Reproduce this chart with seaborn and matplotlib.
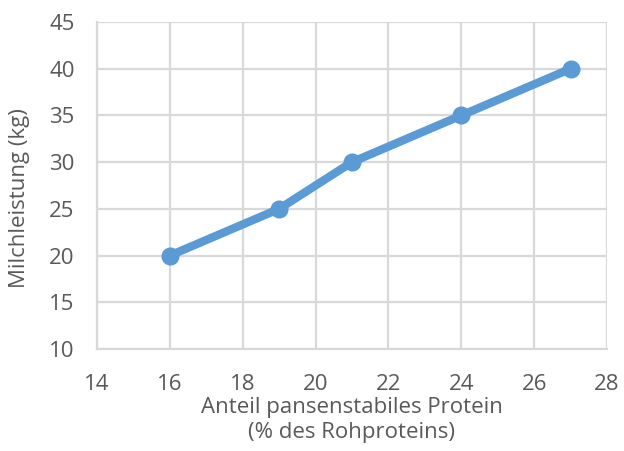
import matplotlib
matplotlib.use("Agg")
import matplotlib.pyplot as plt
import seaborn as sns
import pandas as pd

# Share of rumen-stable protein vs. milk yield
anteil = [16, 19, 21, 24, 27]
milch = [20, 25, 30, 35, 40]
x_ticks = [14, 16, 18, 20, 22, 24, 26, 28]
y_ticks = [10, 15, 20, 25, 30, 35, 40, 45]

df = pd.DataFrame({"anteil": anteil, "milch": milch})

sns.set_theme(style="white")
plt.rcParams["font.family"] = ["Open Sans", "DejaVu Sans"]

text_col = "#595959"
grid_col = "#D9D9D9"
line_col = "#5B9BD5"

fig = plt.figure(figsize=(6.24, 4.51), dpi=100)
ax = fig.add_axes([0.1554, 0.2262, 0.8174, 0.725])

sns.lineplot(data=df, x="anteil", y="milch", ax=ax, color=line_col,
             linewidth=6, marker="o", markersize=13, markeredgewidth=0,
             zorder=3)

ax.set_xlim(14, 28)
ax.set_ylim(10, 45)
ax.set_xticks(x_ticks)
ax.set_yticks(y_ticks)
ax.grid(True, color=grid_col, linewidth=1.6)
ax.set_axisbelow(True)
for side in ["top", "right"]:
    ax.spines[side].set_visible(False)
for side in ["left", "bottom"]:
    ax.spines[side].set_color(grid_col)
    ax.spines[side].set_linewidth(1.6)

ax.tick_params(axis="both", length=0, labelsize=16, labelcolor=text_col)
ax.tick_params(axis="y", pad=16)
ax.tick_params(axis="x", pad=18)
ax.set_xlabel("Anteil pansenstabiles Protein\n(% des Rohproteins)",
              fontsize=16, color=text_col, linespacing=1.2, va="center")
ax.xaxis.set_label_coords(0.5, -0.217)
ax.set_ylabel("Milchleistung (kg)", fontsize=16, color=text_col, va="center")
ax.yaxis.set_label_coords(-0.151, 0.462)

fig.savefig("out.png", dpi=100)
